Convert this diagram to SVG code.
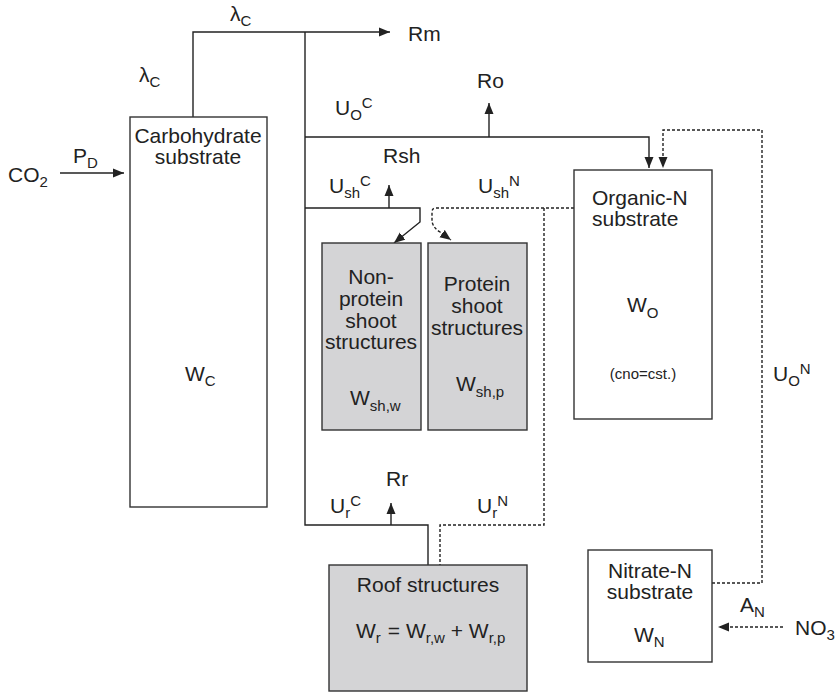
<svg xmlns="http://www.w3.org/2000/svg" width="838" height="692" viewBox="0 0 838 692">
<style>
text{font-family:"Liberation Sans",Arial,sans-serif;font-size:21px;fill:#222}
.s{font-size:15px}
.box{fill:#fff;stroke:#333;stroke-width:1.4}
.gbox{fill:#d4d4d6;stroke:#333;stroke-width:1.4}
.ln{fill:none;stroke:#222;stroke-width:1.4}
.dt{fill:none;stroke:#222;stroke-width:1.4;stroke-dasharray:3 2}
</style>
<defs>
<marker id="ah" markerUnits="userSpaceOnUse" markerWidth="12" markerHeight="10" refX="11" refY="5" orient="auto">
<path d="M0,0.5 L11,5 L0,9.5 z" fill="#222"/>
</marker>
</defs>
<rect width="838" height="692" fill="#fff"/>

<g id="connectors">
<path class="ln" d="M60,173 H124" marker-end="url(#ah)"/>
<path class="ln" d="M193,117 V32 H390" marker-end="url(#ah)"/>
<path class="ln" d="M305,32 V525 H428 V565"/>
<path class="ln" d="M305,137 H649 V168" marker-end="url(#ah)"/>
<path class="ln" d="M489,137 V103" marker-end="url(#ah)"/>
<path class="ln" d="M305,208 H420 V222 L394,243" marker-end="url(#ah)"/>
<path class="ln" d="M389,208 V185" marker-end="url(#ah)"/>
<path class="ln" d="M391,525 V503" marker-end="url(#ah)"/>
<path class="dt" d="M712,583 H762 V130 H663 V168" marker-end="url(#ah)"/>
<path class="dt" d="M574,208 H436 Q432,208 432,212 V220 Q432,227 440,232 L451,240" marker-end="url(#ah)"/>
<path class="dt" d="M544,208 V525 H440 V565"/>
<path class="dt" d="M783,627 H718" marker-end="url(#ah)"/>
</g>

<g id="carbohydrate">
<rect class="box" x="130" y="117" width="137" height="390"/>
<text x="198" y="143" text-anchor="middle">Carbohydrate<tspan x="198" dy="21">substrate</tspan></text>
<text x="185" y="381">W<tspan class="s" dy="5">C</tspan></text>
</g>

<g id="organicN">
<rect class="box" x="574" y="170" width="138" height="249"/>
<text x="592" y="205">Organic-N<tspan x="592" dy="21">substrate</tspan></text>
<text x="627" y="312">W<tspan class="s" dy="6">O</tspan></text>
<text x="643" y="379" text-anchor="middle" style="font-size:15px">(cno=cst.)</text>
</g>

<g id="nonprotein">
<rect class="gbox" x="322" y="243" width="99" height="187"/>
<text x="371" y="284" text-anchor="middle">Non-<tspan x="371" dy="22">protein</tspan><tspan x="371" dy="22">shoot</tspan><tspan x="371" dy="21">structures</tspan></text>
<text x="350" y="405">W<tspan class="s" dy="6">sh,w</tspan></text>
</g>

<g id="protein">
<rect class="gbox" x="428" y="243" width="99" height="187"/>
<text x="477" y="291" text-anchor="middle">Protein<tspan x="477" dy="22">shoot</tspan><tspan x="477" dy="22">structures</tspan></text>
<text x="456" y="391">W<tspan class="s" dy="6">sh,p</tspan></text>
</g>

<g id="root">
<rect class="gbox" x="329" y="565" width="198" height="126"/>
<text x="428" y="592" text-anchor="middle">Roof structures</text>
<text x="356" y="638">W<tspan class="s" dy="5">r</tspan><tspan dy="-5" dx="7">= W</tspan><tspan class="s" dy="5">r,w</tspan><tspan dy="-5"> + W</tspan><tspan class="s" dy="5">r,p</tspan></text>
</g>

<g id="nitrate">
<rect class="box" x="588" y="550" width="124" height="112"/>
<text x="650" y="578" text-anchor="middle">Nitrate-N<tspan x="650" dy="21">substrate</tspan></text>
<text x="634" y="642">W<tspan class="s" dy="5">N</tspan></text>
</g>

<g id="labels">
<text x="8" y="182">CO<tspan class="s" dy="5">2</tspan></text>
<text x="73" y="163">P<tspan class="s" dy="5">D</tspan></text>
<text x="230" y="21">λ<tspan class="s" dy="5">C</tspan></text>
<text x="139" y="82">λ<tspan class="s" dy="5">C</tspan></text>
<text x="408" y="41">Rm</text>
<text x="477" y="88">Ro</text>
<text x="335" y="115">U<tspan class="s" dy="5">O</tspan><tspan class="s" dy="-12">C</tspan></text>
<text x="383" y="163">Rsh</text>
<text x="329" y="193">U<tspan class="s" dy="5">sh</tspan><tspan class="s" dy="-12">C</tspan></text>
<text x="478" y="193">U<tspan class="s" dy="5">sh</tspan><tspan class="s" dy="-12">N</tspan></text>
<text x="773" y="381">U<tspan class="s" dy="5">O</tspan><tspan class="s" dy="-12">N</tspan></text>
<text x="386" y="486">Rr</text>
<text x="330" y="513">U<tspan class="s" dy="5">r</tspan><tspan class="s" dy="-12">C</tspan></text>
<text x="477" y="513">U<tspan class="s" dy="5">r</tspan><tspan class="s" dy="-12">N</tspan></text>
<text x="740" y="612">A<tspan class="s" dy="5">N</tspan></text>
<text x="795" y="635">NO<tspan class="s" dy="5">3</tspan></text>
</g>
</svg>
